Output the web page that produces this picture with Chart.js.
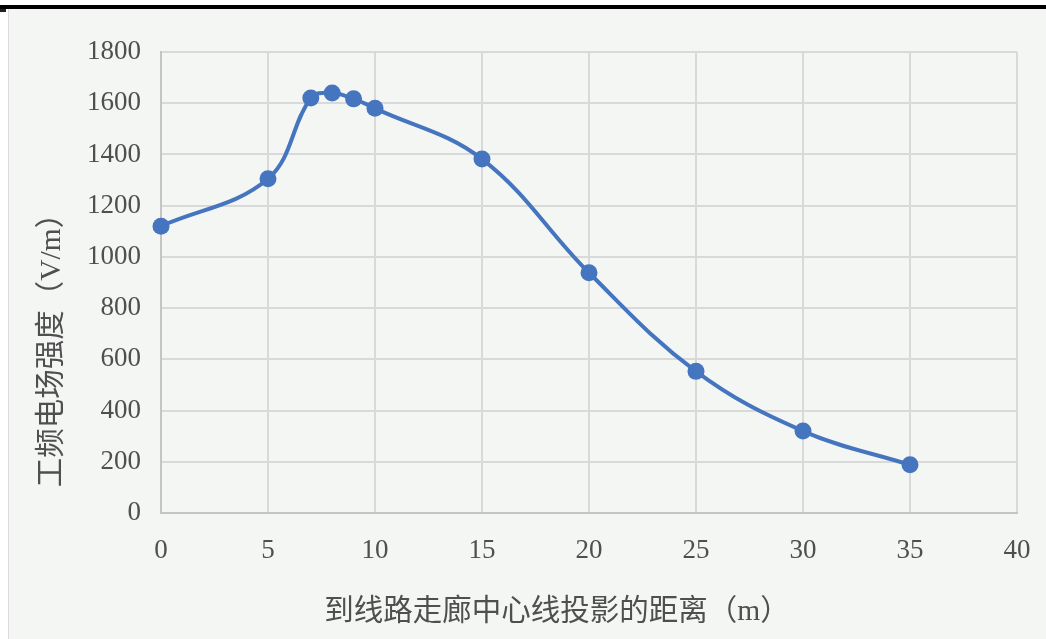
<!DOCTYPE html>
<html>
<head>
<meta charset="utf-8">
<script src="https://cdn.jsdelivr.net/npm/chart.js@4/dist/chart.umd.min.js"></script>
<style>
  html, body { margin: 0; padding: 0; background: #fff; }
  #wrap { position: relative; width: 1046px; height: 639px; overflow: hidden; }
  #topbar { position: absolute; left: 0; top: 5px; width: 1046px; height: 4px; background: #000; }
  #corner { position: absolute; left: 0; top: 9px; width: 6px; height: 3px; background: #222; }
  #panel { position: absolute; left: 8px; top: 9px; right: 0; bottom: 0; background: #f4f6f4; border-left: 1px solid #dcdcdc; }
  #field-chart { position: absolute; left: 0; top: 0; }
</style>
</head>
<body>
<div id="wrap">
  <div id="topbar"></div>
  <div id="corner"></div>
  <div id="panel"></div>
  <canvas id="field-chart" width="1046" height="639"></canvas>
</div>
<script>
// distance from corridor centre line (m) and power-frequency E-field (V/m)
const distances = [0, 5, 7, 8, 9, 10, 15, 20, 25, 30, 35];
const fieldStrength = [1120, 1305, 1620, 1640, 1617, 1580, 1382, 938, 553, 320, 188];

const xTitle = '到线路走廊中心线投影的距离（m）';
const yTitle = '工频电场强度（V/m）';

const LINE_COLOR = '#4675c0';
const TEXT_COLOR = '#4f4f4f';
const TICK_FONT = { family: "'Liberation Serif', 'Times New Roman', serif", size: 27 };
const TITLE_FONT = "29.5px 'Liberation Serif', 'Noto Sans CJK SC', serif";

const points = distances.map((d, i) => ({ x: d, y: fieldStrength[i] }));

// axis titles sit off-centre, so they are placed by hand
const axisTitles = {
  id: 'axisTitles',
  afterDraw(chart) {
    const ctx = chart.ctx;
    ctx.save();
    ctx.fillStyle = TEXT_COLOR;
    ctx.font = TITLE_FONT;
    ctx.textAlign = 'center';
    ctx.textBaseline = 'middle';
    ctx.fillText(xTitle, 557, 612);
    ctx.translate(52, 343);
    ctx.rotate(-Math.PI / 2);
    ctx.fillText(yTitle, 0, 0);
    ctx.restore();
  }
};

new Chart(document.getElementById('field-chart'), {
  type: 'line',
  data: {
    datasets: [{
      data: points,
      borderColor: LINE_COLOR,
      backgroundColor: LINE_COLOR,
      borderWidth: 4,
      pointRadius: 8.5,
      pointHoverRadius: 8.5,
      pointBorderWidth: 0,
      tension: 0.38,
      fill: false,
      clip: false
    }]
  },
  options: {
    responsive: false,
    animation: false,
    layout: { padding: { top: 52, right: 29, left: 0, bottom: 0 } },
    plugins: { legend: { display: false }, tooltip: { enabled: false } },
    scales: {
      x: {
        type: 'linear',
        min: 0,
        max: 40,
        afterFit(scale) {
          scale.height = 126;
          scale.paddingLeft = 0;
          scale.paddingRight = 0;
        },
        ticks: { stepSize: 5, padding: 22, color: TEXT_COLOR, font: TICK_FONT, maxRotation: 0 },
        grid: { color: '#d9d9d9', lineWidth: 2, drawTicks: false },
        border: { color: '#c4c4c4', width: 2 }
      },
      y: {
        min: 0,
        max: 1800,
        afterFit(scale) { scale.width = 161; },
        ticks: {
          stepSize: 200, padding: 20, color: TEXT_COLOR, font: TICK_FONT,
          callback: v => String(v)
        },
        grid: { color: '#d9d9d9', lineWidth: 2, drawTicks: false },
        border: { color: '#c4c4c4', width: 2 }
      }
    }
  },
  plugins: [axisTitles]
});
</script>
</body>
</html>
